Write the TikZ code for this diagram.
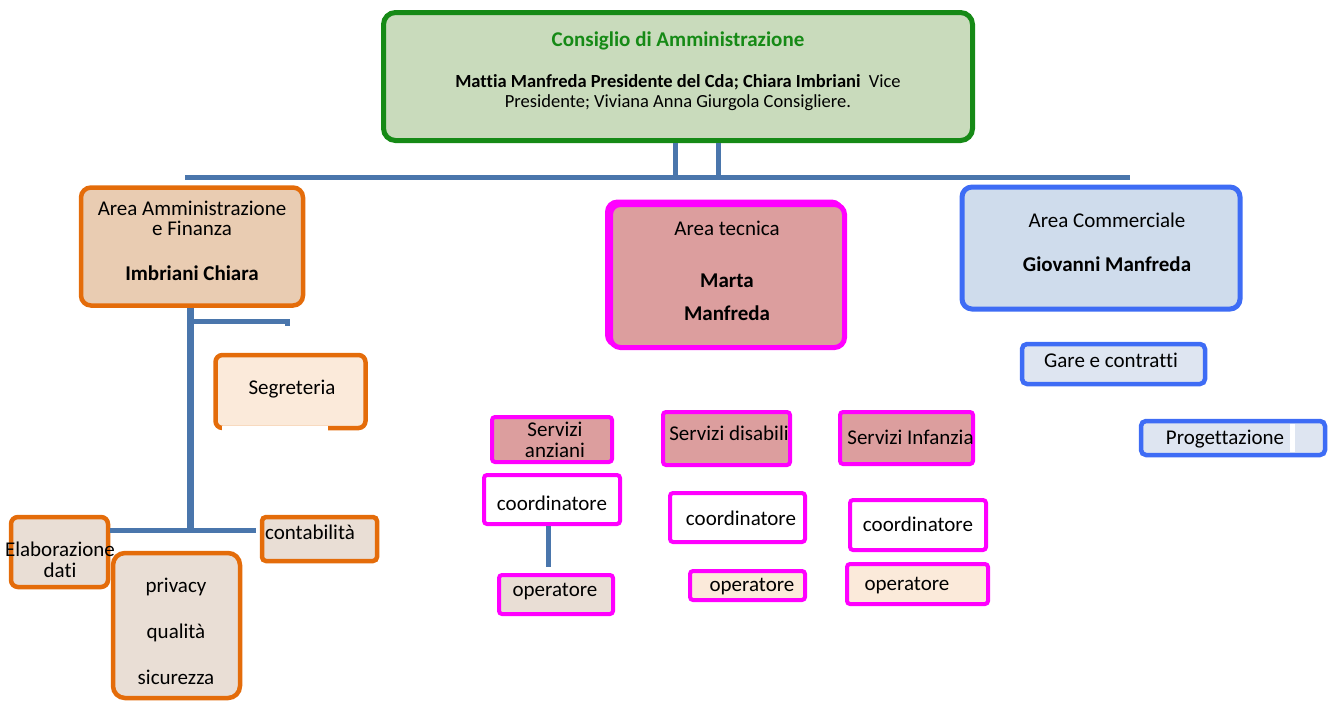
\documentclass[tikz,border=0pt]{standalone}
\usepackage{fontspec}
\setmainfont{Carlito}[Ligatures=NoCommon]
\definecolor{cdagreen}{RGB}{22,138,22}
\definecolor{cdafill}{RGB}{201,219,188}
\definecolor{linkblue}{RGB}{74,118,172}
\definecolor{ammorange}{RGB}{228,108,10}
\definecolor{ammfill}{RGB}{233,204,178}
\definecolor{peachlight}{RGB}{251,234,218}
\definecolor{greybeige}{RGB}{233,222,213}
\definecolor{tecmagenta}{RGB}{255,0,255}
\definecolor{tecfill}{RGB}{220,158,158}
\definecolor{comblue}{RGB}{62,108,245}
\definecolor{comfill}{RGB}{207,220,236}
\definecolor{comlight}{RGB}{222,229,241}
\tikzset{
  conn/.style={draw=linkblue, line width=5pt},
  cdabox/.style={draw=cdagreen, fill=cdafill, line width=5pt, rounded corners=12pt, inner sep=0pt},
  ammbox/.style={draw=ammorange, fill=ammfill, line width=4.5pt, rounded corners=10pt, inner sep=0pt},
  ammsub/.style={draw=ammorange, fill=greybeige, line width=4.5pt, rounded corners=7pt, inner sep=0pt},
  tecbox/.style={draw=tecmagenta, fill=tecfill, line width=5pt, rounded corners=10pt, inner sep=0pt},
  tecsub/.style={draw=tecmagenta, fill=white, line width=4pt, rounded corners=3pt, inner sep=0pt},
  combox/.style={draw=comblue, fill=comfill, line width=5pt, rounded corners=10pt, inner sep=0pt},
  comsub/.style={draw=comblue, fill=comlight, line width=4.5pt, rounded corners=5pt, inner sep=0pt},
  txt/.style={inner sep=0pt, align=center, font=\fontsize{21}{21}\selectfont},
  boss/.style={txt, font=\bfseries\fontsize{21}{21}\selectfont},
}
\begin{document}
\begin{tikzpicture}[x=1pt,y=-1pt]
    \useasboundingbox (0,0) rectangle (1334,702);
    % consiglio
    \node[cdabox, minimum width=589pt, minimum height=128pt] (cda) at (678,76.5) {};
    \node[txt, font=\bfseries\fontsize{21}{21}\selectfont, text=cdagreen] (cdaT) at (678,41) {Consiglio di Amministrazione};
    \node[txt, font=\fontsize{18.5}{20}\selectfont] (cdaN) at (678,93) {\textbf{Mattia Manfreda Presidente del Cda; Chiara Imbriani}\ \ Vice\\Presidente; Viviana Anna Giurgola Consigliere.};
    \coordinate (barW) at (185,177.5);
    \coordinate (barE) at (1130,177.5);
    \draw[conn] (barW) -- (barE);
    \draw[conn] ([xshift=-3pt]cda.south) -- ([xshift=-3pt]cda.south |- barW);
    \draw[conn] ([xshift=40pt]cda.south) -- ([xshift=40pt]cda.south |- barW);
    % area amministrazione
    \node[ammbox, minimum width=222pt, minimum height=118pt] (amm) at (192,246.5) {};
    \node[txt, font=\fontsize{21}{20}\selectfont] (ammT) at (192,218) {Area Amministrazione\\e Finanza};
    \node[boss] (ammN) at (192,273) {Imbriani Chiara};
    \node[ammsub, fill=peachlight, minimum width=150pt, minimum height=73pt] (seg) at (290.5,391.5) {};
    \node[txt] (segT) at (292,389) {Segreteria};
    \fill[white] (222,426) rectangle (328,434);
    \node[ammsub, minimum width=97pt, minimum height=70pt] (elab) at (59.5,552) {};
    \node[txt] (elabT) at (60,560) {Elaborazione\\dati};
    \node[ammsub, rounded corners=4pt, minimum width=115pt, minimum height=44pt] (contab) at (319.5,539) {};
    \node[txt] (contabT) at (310,532) {contabilità};
    \node[ammsub, rounded corners=12pt, minimum width=127pt, minimum height=145pt] (priv) at (176.5,625.5) {};
    \node[txt, font=\fontsize{21}{46}\selectfont] (privT) at (176,631) {privacy\\qualità\\sicurezza};
    \coordinate (ammJ) at (190,530);
    \draw[conn, line width=7pt] ([xshift=-2pt]amm.south) -- (ammJ);
    \draw[conn] ([xshift=-2pt,yshift=-14pt]amm.south) -- ++(97,0) -- ++(0,4);
    \draw[conn] (elab.east |- ammJ) -- (ammJ) -- ([xshift=-4pt]contab.west |- ammJ);
    % area tecnica
    \node[tecbox, fill=none, minimum width=234pt, minimum height=143pt] (tecS) at (724.5,273.5) {};
    \node[tecbox, minimum width=234pt, minimum height=143pt] (tec) at (727.5,276) {};
    \node[txt] (tecT) at (727,228) {Area tecnica};
    \node[boss, font=\bfseries\fontsize{21}{33}\selectfont] (tecN) at (727,297) {Marta\\Manfreda};
    \node[tecsub, fill=tecfill, minimum width=120pt, minimum height=45pt] (ana) at (552,439.5) {};
    \node[txt] (anaT) at (555,439.5) {Servizi\\anziani};
    \node[tecsub, fill=tecfill, minimum width=127pt, minimum height=53pt] (dis) at (726.5,438.5) {};
    \node[txt] (disT) at (729,433) {Servizi disabili};
    \node[tecsub, fill=tecfill, minimum width=133pt, minimum height=52pt] (inf) at (906.5,438) {};
    \node[txt] (infT) at (910.5,437) {Servizi Infanzia};
    \node[tecsub, minimum width=136pt, minimum height=49pt] (coo1) at (552,499.5) {};
    \node[txt] (coo1T) at (552,503) {coordinatore};
    \node[tecsub, minimum width=135pt, minimum height=49pt] (coo2) at (737.5,517.5) {};
    \node[txt] (coo2T) at (741,518) {coordinatore};
    \node[tecsub, minimum width=136pt, minimum height=50pt] (coo3) at (918,525) {};
    \node[txt] (coo3T) at (918,524) {coordinatore};
    \draw[conn] ([xshift=-4pt]coo1.south) -- ++(0,41);
    \node[tecsub, fill=greybeige, minimum width=114pt, minimum height=39pt] (op1) at (556,594.5) {};
    \node[txt] (op1T) at (555,592) {operatore};
    \node[tecsub, fill=peachlight, minimum width=115pt, minimum height=29pt] (op2) at (747.5,585.5) {};
    \node[txt] (op2T) at (752,587) {operatore};
    \node[tecsub, fill=peachlight, minimum width=141pt, minimum height=40pt] (op3) at (917.5,584) {};
    \node[txt] (op3T) at (907,586) {operatore};
    % area commerciale
    \node[combox, minimum width=278pt, minimum height=122pt] (com) at (1101,248) {};
    \node[txt] (comT) at (1107,220) {Area Commerciale};
    \node[boss] (comN) at (1107,264) {Giovanni Manfreda};
    \node[comsub, minimum width=183pt, minimum height=40pt] (gare) at (1113.5,364) {};
    \node[txt] (gareT) at (1111,360) {Gare e contratti};
    \node[comsub, minimum width=184pt, minimum height=34pt] (prog) at (1233,438) {};
    \node[txt] (progT) at (1225,439) {Progettazione};
    \fill[white] (1290,424) rectangle (1295,452);
\end{tikzpicture}
\end{document}
